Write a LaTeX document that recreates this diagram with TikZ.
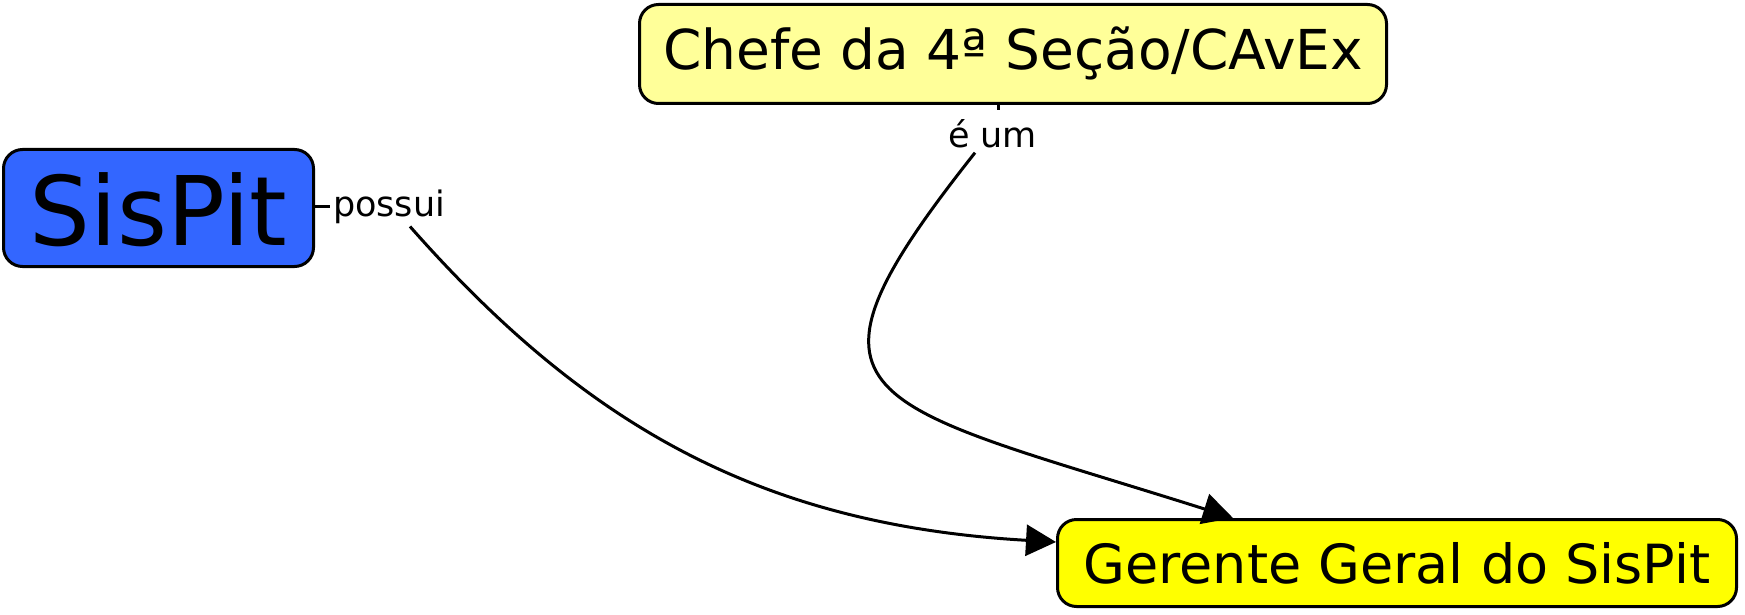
\documentclass[tikz,border=0pt]{standalone}
\usepackage{fontspec}
\setmainfont{DejaVu Sans}
\usetikzlibrary{arrows.meta,calc}
\definecolor{spblue}{HTML}{3366FF}
\definecolor{lightyel}{HTML}{FFFF99}
\definecolor{brightyel}{HTML}{FFFF00}
\begin{document}
\begin{tikzpicture}[x=1pt,y=-1pt,
  concept/.style={draw=black, line width=3pt, rounded corners=19pt, inner sep=0pt, align=center},
  linklabel/.style={font=\fontsize{35}{40}\selectfont, inner sep=0pt},
  conn/.style={line width=3pt},
  arr/.style={conn, -{Triangle[length=30pt,width=31pt]}}]
\useasboundingbox (0,0) rectangle (1745,615);
\node[concept, fill=spblue, minimum width=310pt, text height=95.5pt, text depth=21.5pt,
      font=\fontsize{96}{100}\selectfont] (sispit) at (158.5,208) {SisPit};
\node[concept, fill=lightyel, minimum width=747pt, text height=65.5pt, text depth=33.5pt,
      font=\fontsize{55}{60}\selectfont] (chefe) at (1013,54) {Chefe da 4ª Seção/CAvEx};
\node[concept, fill=brightyel, minimum width=679pt, text height=63.5pt, text depth=23.5pt,
      font=\fontsize{54}{60}\selectfont] (gerente) at (1397,563) {Gerente Geral do SisPit};
\node[linklabel, anchor=base, inner xsep=3pt] (possui) at (389,216) {possui};
\node[linklabel, anchor=base] (eum) at (992.5,147) {é um};
\coordinate (tickbot) at ($(eum.north)+(5.5,-9)$);
\draw[conn] (sispit.east |- possui.west) -- (possui.west);
\draw[conn] (chefe.south -| tickbot) -- (tickbot);
\draw[arr] ($(possui.south)+(21,3)$) .. controls (585,425) and (760,525) .. ($(gerente.west)+(0,-21)$);
\draw[arr] ($(eum.south)+(-17.5,5)$) .. controls (775,405) and (860,400) .. ($(gerente.north)+(-164,0)$);
\end{tikzpicture}
\end{document}
